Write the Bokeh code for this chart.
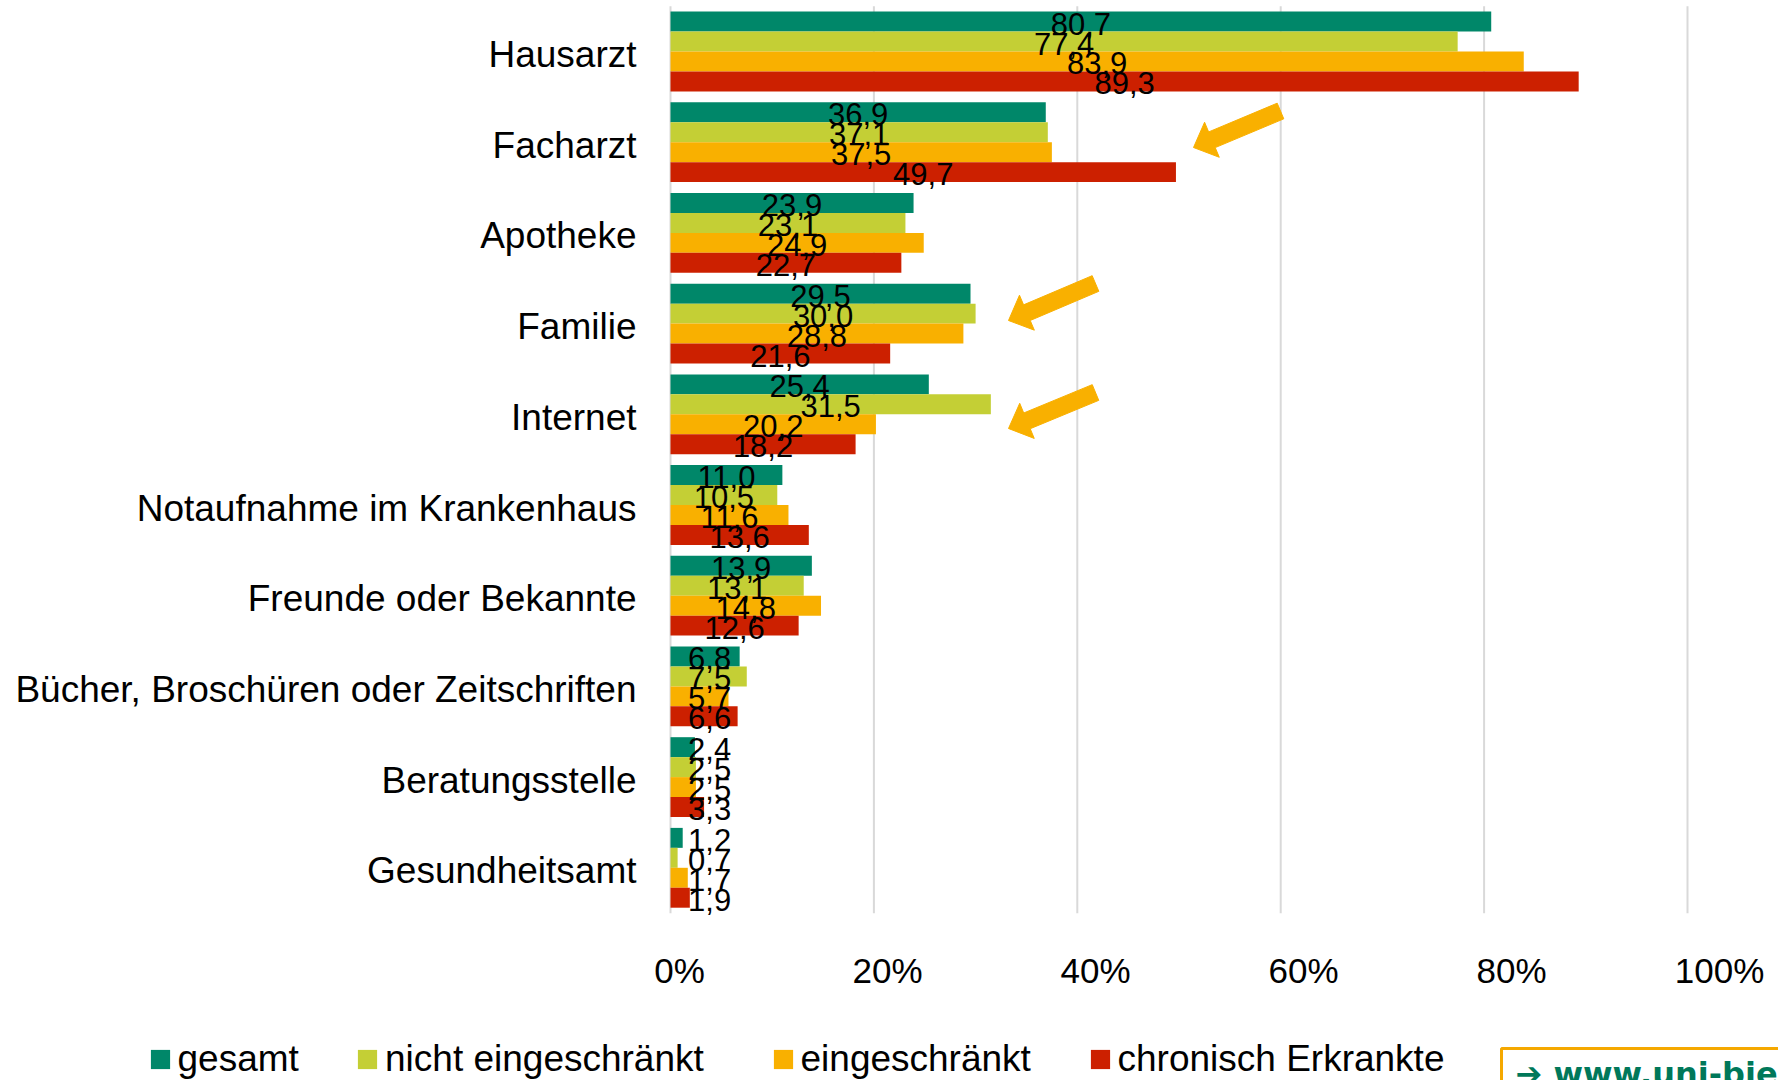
import numpy as np
from bokeh.plotting import figure
from bokeh.models import (ColumnDataSource, Range1d, Legend, LegendItem)
from bokeh.transform import dodge
from bokeh.core.properties import value
from bokeh.embed import file_html
from bokeh.resources import INLINE

# ---------------- data ----------------
categories = ["Hausarzt", "Facharzt", "Apotheke", "Familie", "Internet",
              "Notaufnahme im Krankenhaus", "Freunde oder Bekannte",
              "Bücher, Broschüren oder Zeitschriften", "Beratungsstelle", "Gesundheitsamt"]
series_names = ["gesamt", "nicht eingeschränkt", "eingeschränkt", "chronisch Erkrankte"]
gesamt = [80.7, 36.9, 23.9, 29.5, 25.4, 11.0, 13.9, 6.8, 2.4, 1.2]
nicht_eingeschraenkt = [77.4, 37.1, 23.1, 30.0, 31.5, 10.5, 13.1, 7.5, 2.5, 0.7]
eingeschraenkt = [83.9, 37.5, 24.9, 28.8, 20.2, 11.6, 14.8, 5.7, 2.5, 1.7]
chronisch = [89.3, 49.7, 22.7, 21.6, 18.2, 13.6, 12.6, 6.6, 3.3, 1.9]
x_ticks = [0, 20, 40, 60, 80, 100]
tick_labels = [f"{t}%" for t in x_ticks]

series_values = [gesamt, nicht_eingeschraenkt, eingeschraenkt, chronisch]

# ---------------- style / layout ----------------
colors = ["#008769", "#c4cf35", "#f9b000", "#cc2000"]
offsets = [-0.33, -0.11, 0.11, 0.33]
FONT = "Liberation Sans"
W, H = 1778, 1080
X0_PX, PX_PER_PCT = 670, 10.17      # where 0 % sits, pixels per percent
Y0_PX, PX_PER_CAT = 51, 90.7        # centre of first category, pixels per category
positions = list(range(len(categories)))

p = figure(width=W, height=H,
           x_range=Range1d(-X0_PX / PX_PER_PCT, (W - X0_PX) / PX_PER_PCT),
           y_range=Range1d((H - Y0_PX) / PX_PER_CAT, -Y0_PX / PX_PER_CAT),
           x_axis_location=None, y_axis_location=None,
           output_backend="svg", toolbar_location=None,
           min_border=0, min_border_left=0, min_border_right=0,
           min_border_top=0, min_border_bottom=0)
p.extra_x_ranges = {"px": Range1d(0, W)}
p.extra_y_ranges = {"px": Range1d(H, 0)}
p.outline_line_color = None
p.grid.visible = False
p.background_fill_color = "white"
p.border_fill_color = "white"

# vertical grid lines spanning the category area
p.segment(x0=x_ticks, x1=x_ticks, y0=-0.5, y1=len(categories) - 0.5,
          line_color="#d9d9d9", line_width=2)

# bars
renderers = []
sources = []
for vals, col, off in zip(series_values, colors, offsets):
    arr = np.array(vals)
    src = ColumnDataSource(dict(pos=positions, val=vals,
                                lx=np.maximum(arr / 2, 3.85),
                                txt=[f"{v:.1f}".replace(".", ",") for v in vals]))
    r = p.hbar(y=dodge("pos", off), left=0, right="val",
               height=0.22, fill_color=col, line_color=None, source=src)
    renderers.append(r)
    sources.append((src, off))

# value labels
for src, off in sources:
    p.text(x="lx", y=dodge("pos", off), text="txt", source=src,
           text_align="center", text_baseline="middle", y_offset=2,
           text_font=value(FONT), text_font_size="31px", text_color="black")

# category labels (left of the 0 line)
cat_src = ColumnDataSource(dict(y=positions, txt=categories, x=[0] * len(categories)))
p.text(x="x", y="y", text="txt", source=cat_src, x_offset=-34, y_offset=3,
       text_align="right", text_baseline="middle",
       text_font=value(FONT), text_font_size="37px", text_color="black")

# x tick labels
tick_src = ColumnDataSource(dict(x=x_ticks, txt=tick_labels,
                                 y=[len(categories) - 0.5] * len(x_ticks),
                                 dx=[9 + t * 0.23 for t in x_ticks]))
p.text(x="x", y="y", text="txt", source=tick_src, x_offset="dx", y_offset=57,
       text_align="center", text_baseline="middle",
       text_font=value(FONT), text_font_size="35px", text_color="black")

# legend: one entry per series, placed as in the reference
legend_x = [147.5, 355, 770.5, 1087.5]
for name, r, lx in zip(series_names, renderers, legend_x):
    lg = Legend(items=[LegendItem(label=name, renderers=[r])],
                location=(lx, 0), orientation="horizontal",
                glyph_width=24, glyph_height=24, label_standoff=6,
                padding=0, margin=0, border_line_color=None, background_fill_alpha=0,
                label_text_font=FONT, label_text_font_size="37px", label_text_color="black")
    p.add_layout(lg, "center")

# decorative orange arrows (pixel space)
def arrow_poly(x0, y0, x1, y1, shaft=17, head_w=38, head_l=20):
    d = np.array([x1 - x0, y1 - y0], dtype=float)
    u = d / np.hypot(*d)
    n = np.array([-u[1], u[0]])
    tip = np.array([x1, y1], dtype=float)
    tail = np.array([x0, y0], dtype=float)
    base = tip - u * head_l
    pts = [tail + n * shaft / 2, base + n * shaft / 2, base + n * head_w / 2, tip,
           base - n * head_w / 2, base - n * shaft / 2, tail - n * shaft / 2]
    return [float(pt[0]) for pt in pts], [float(pt[1]) for pt in pts]

arrows = [(1280, 110.5, 1193, 147), (1095, 283, 1008, 320), (1095, 392, 1008, 428)]
axs, ays = [], []
for a in arrows:
    xs, ys = arrow_poly(*a)
    axs.append(xs)
    ays.append(ys)
p.patches(xs=axs, ys=ays, fill_color="#f9b000", line_color="#f9b000",
          x_range_name="px", y_range_name="px")

# cropped university banner at the bottom right
p.quad(left=[1501], right=[1830], top=[1048], bottom=[1120], fill_color="white",
       line_color="#f5a800", line_width=3, x_range_name="px", y_range_name="px")
p.text(x=[1515], y=[1054], text=["➔ www.uni-bielefeld.de"], text_baseline="top",
       text_align="left", text_font=value("DejaVu Sans"), text_font_style="bold",
       text_font_size="32px", text_color="#00785a", x_range_name="px", y_range_name="px")

open("out.html", "w").write(file_html(p, INLINE))
